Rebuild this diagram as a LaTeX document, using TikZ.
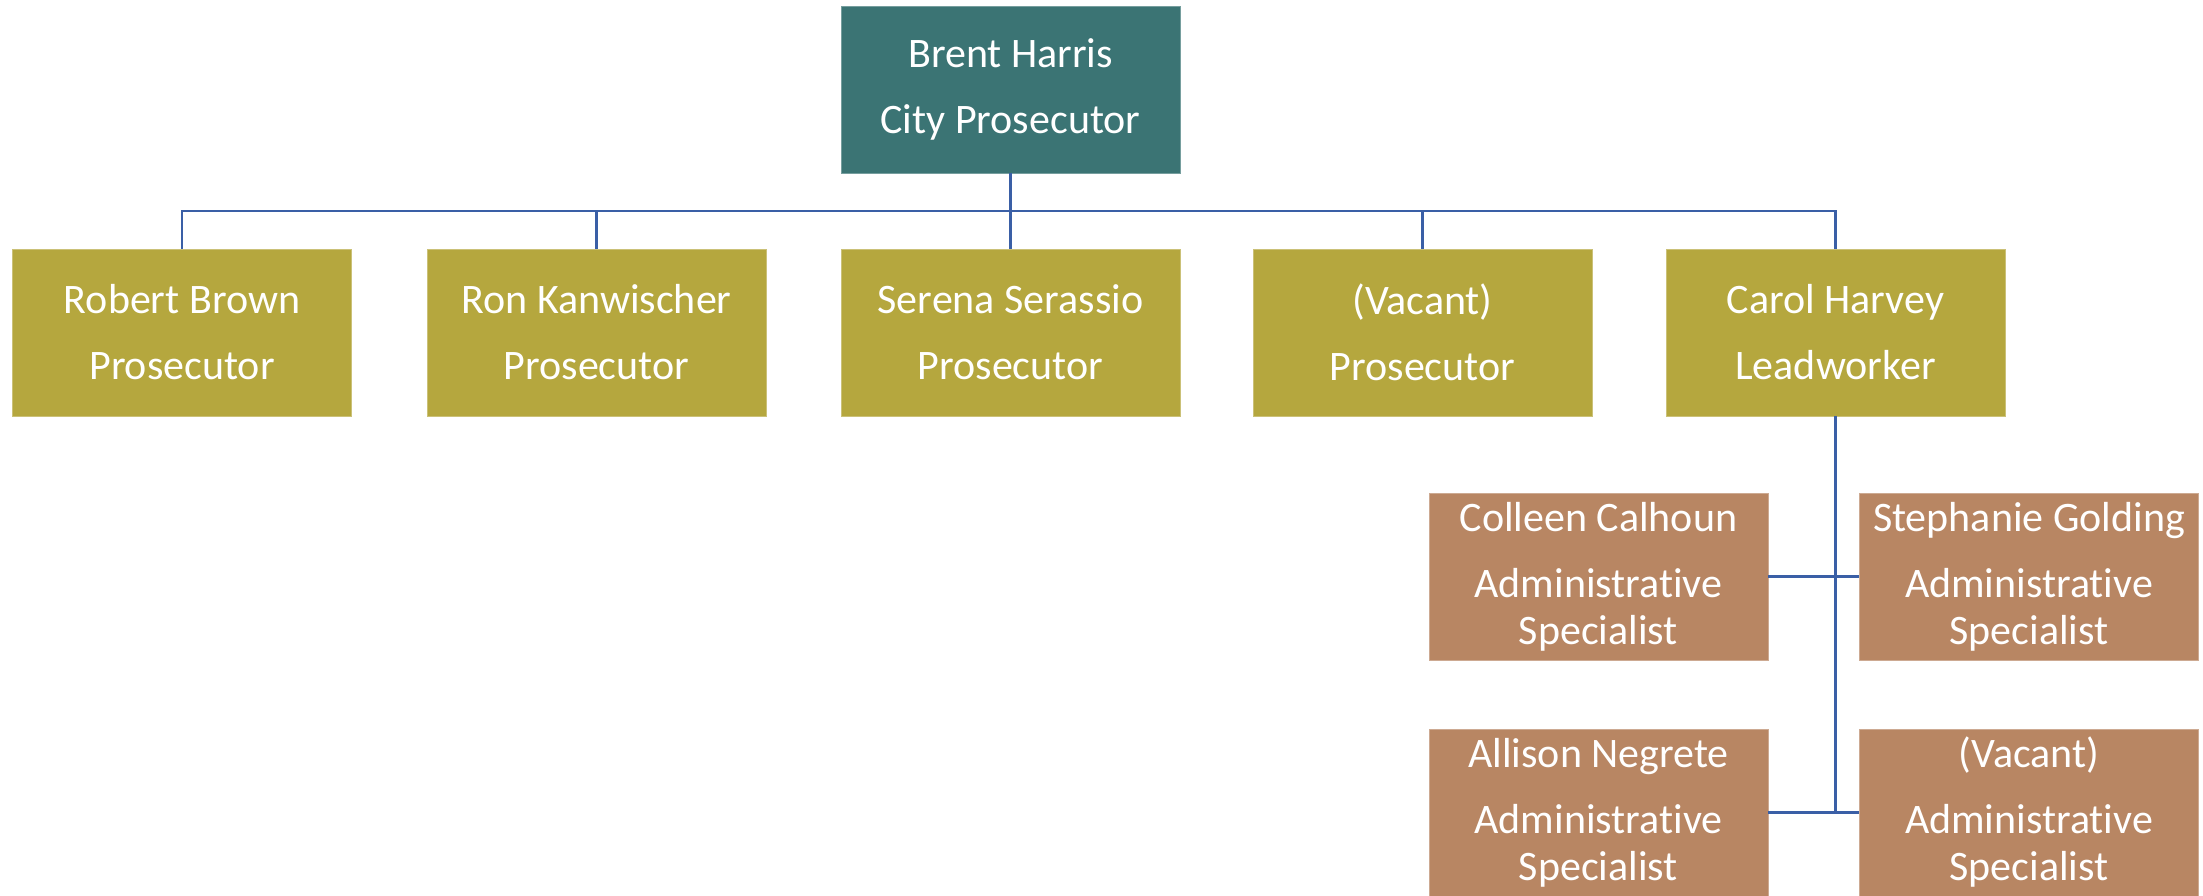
\documentclass[tikz,border=0pt]{standalone}
\usepackage{fontspec}
\setmainfont[Ligatures=NoCommon]{Carlito}
\definecolor{bossteal}{RGB}{59,116,116}
\definecolor{staffolive}{RGB}{181,167,62}
\definecolor{adminbrown}{RGB}{184,134,99}
\definecolor{linkblue}{RGB}{58,95,166}
\begin{document}
\begin{tikzpicture}[x=0.5pt,y=-0.5pt,
		box/.style={fill=#1,draw=#1!70!white,line width=0.4pt,minimum width=169.5pt,minimum height=83.5pt,
			inner sep=1pt,align=center,text=white,font=\fontsize{21}{23.5}\selectfont},
		link/.style={draw=linkblue,line width=1.3pt}]
				\useasboundingbox (0,0) rectangle (2203,895);
				% top
				\node[box=bossteal] (boss) at (1010.5,89.5) {Brent Harris\\[9.5pt]City Prosecutor};
				% prosecutors
				\node[box=staffolive] (brown) at (182,332.5) {Robert Brown\\[9.5pt]Prosecutor};
				\node[box=staffolive] (kanwischer) at (596.5,332.5) {Ron Kanwischer\\[9.5pt]Prosecutor};
				\node[box=staffolive] (serassio) at (1010.5,332.5) {Serena Serassio\\[9.5pt]Prosecutor};
				\node[box=staffolive] (vacantpros) at (1422.5,332.5) {(Vacant)\\[9.5pt]Prosecutor};
				\node[box=staffolive] (harvey) at (1835.5,332.5) {Carol Harvey\\[9.5pt]Leadworker};
				% admin staff
				\node[box=adminbrown] (calhoun) at (1598.5,576.5) {Colleen Calhoun\\[9.5pt]Administrative\\Specialist};
				\node[box=adminbrown] (golding) at (2029,576.5) {Stephanie Golding\\[9.5pt]Administrative\\Specialist};
				\node[box=adminbrown] (negrete) at (1598.5,812.5) {Allison Negrete\\[9.5pt]Administrative\\Specialist};
				\node[box=adminbrown] (vacantadmin) at (2029,812.5) {(Vacant)\\[9.5pt]Administrative\\Specialist};
				\coordinate (bus) at (1010.5,211);
				\draw[link] (boss.south) to (bus);
				\draw[link] (brown.north) |- (bus);
				\draw[link] (kanwischer.north) |- (bus);
				\draw[link] (serassio.north) to (bus);
				\draw[link] (vacantpros.north) |- (bus);
				\draw[link] (harvey.north) |- (bus);
				\draw[link] (harvey.south) to (harvey.south |- negrete.east);
				\draw[link] (calhoun.east) to (golding.west);
				\draw[link] (negrete.east) to (vacantadmin.west);
			\end{tikzpicture}
\end{document}
